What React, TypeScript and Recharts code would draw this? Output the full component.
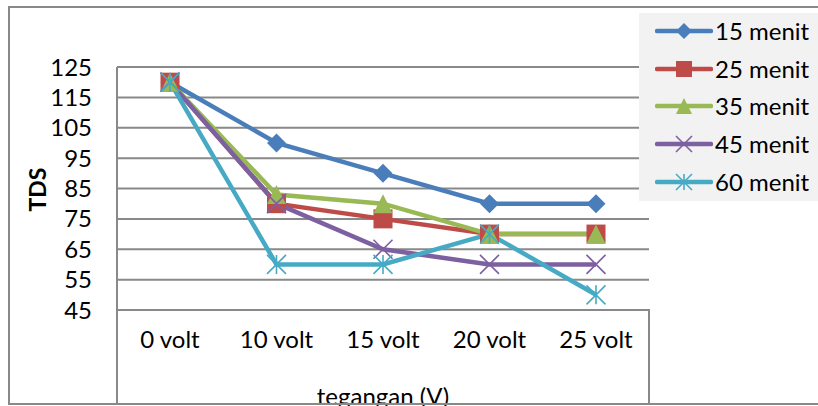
import { CartesianGrid, Line, LineChart, XAxis, YAxis } from "recharts";

const categories = ["0 volt", "10 volt", "15 volt", "20 volt", "25 volt"];
const menit15 = [120, 100, 90, 80, 80];
const menit25 = [120, 80, 75, 70, 70];
const menit35 = [120, 83, 80, 70, 70];
const menit45 = [120, 80, 65, 60, 60];
const menit60 = [120, 60, 60, 70, 50];
const yTicks = [45, 55, 65, 75, 85, 95, 105, 115, 125];

type MarkerKind = "diamond" | "square" | "triangle" | "x" | "star";

const SERIES: { key: string; name: string; color: string; marker: MarkerKind }[] = [
  { key: "m15", name: "15 menit", color: "#4A7EBB", marker: "diamond" },
  { key: "m25", name: "25 menit", color: "#BE4B48", marker: "square" },
  { key: "m35", name: "35 menit", color: "#98B954", marker: "triangle" },
  { key: "m45", name: "45 menit", color: "#7D60A0", marker: "x" },
  { key: "m60", name: "60 menit", color: "#46AAC5", marker: "star" },
];

const chartData = categories.map((name, i) => ({
  name,
  m15: menit15[i],
  m25: menit25[i],
  m35: menit35[i],
  m45: menit45[i],
  m60: menit60[i],
}));

const FONT = "Lato, 'Open Sans', sans-serif";
const GRID = "#898989";

function Marker({ kind, cx, cy, color, size }: { kind: MarkerKind; cx: number; cy: number; color: string; size: number }) {
  const h = size / 2;
  switch (kind) {
    case "diamond":
      return <polygon points={`${cx},${cy - h} ${cx + h},${cy} ${cx},${cy + h} ${cx - h},${cy}`} fill={color} />;
    case "square":
      return <rect x={cx - h} y={cy - h} width={size} height={size} fill={color} />;
    case "triangle":
      return <polygon points={`${cx},${cy - h} ${cx + h},${cy + h} ${cx - h},${cy + h}`} fill={color} />;
    case "x":
      return (
        <path
          d={`M${cx - h},${cy - h}L${cx + h},${cy + h}M${cx - h},${cy + h}L${cx + h},${cy - h}`}
          stroke={color}
          strokeWidth={1.6}
          fill="none"
        />
      );
    case "star":
      return (
        <path
          d={`M${cx - h},${cy - h}L${cx + h},${cy + h}M${cx - h},${cy + h}L${cx + h},${cy - h}M${cx},${cy - h}L${cx},${cy + h}`}
          stroke={color}
          strokeWidth={1.6}
          fill="none"
        />
      );
  }
  return null;
}

function LegendBox() {
  return (
    <div
      style={{
        position: "absolute",
        left: 639,
        top: 13,
        width: 179,
        height: 188,
        background: "#F2F2F2",
      }}
    >
      {SERIES.map((s, i) => (
        <div
          key={s.key}
          style={{ position: "absolute", left: 16, top: 18 + i * 37.7 - 16, height: 32, display: "flex", alignItems: "center" }}
        >
          <svg width={58} height={32}>
            <line x1={2} y1={16} x2={56} y2={16} stroke={s.color} strokeWidth={4.5} strokeLinecap="round" />
            <Marker kind={s.marker} cx={29} cy={16} color={s.color} size={16} />
          </svg>
          <span style={{ fontFamily: FONT, fontSize: 24, color: "#000", marginLeft: 2, lineHeight: "32px" }}>{s.name}</span>
        </div>
      ))}
    </div>
  );
}

export default function App() {
  return (
    <div
      style={{
        position: "fixed",
        left: 0,
        top: 0,
        width: 818,
        height: 406,
        background: "#fff",
        overflow: "hidden",
      }}
    >
      <LineChart
        width={818}
        height={406}
        data={chartData}
        margin={{ top: 67, right: 169, left: 0, bottom: 0 }}
        style={{ fontFamily: FONT }}
      >
        <CartesianGrid vertical={false} stroke={GRID} strokeWidth={2} />
        <XAxis
          dataKey="name"
          axisLine={false}
          tickLine={false}
          tickSize={0}
          tickMargin={21}
          height={96}
          interval={0}
          padding={{ left: 53, right: 53 }}
          tick={{ fill: "#000", fontSize: 24 }}
          label={(p: any) => {
            const vb = p.viewBox || {};
            return (
              <text x={vb.x + vb.width / 2} y={405} textAnchor="middle" fontSize={24} fill="#000">
                tegangan (V)
              </text>
            );
          }}
        />
        <YAxis
          domain={[45, 125]}
          ticks={yTicks}
          interval={0}
          width={117}
          axisLine={{ stroke: GRID, strokeWidth: 2 }}
          tickLine={false}
          tickSize={0}
          tickMargin={25}
          tick={{ fill: "#000", fontSize: 24 }}
          label={(p: any) => {
            const vb = p.viewBox || {};
            const cy = vb.y + vb.height / 2 + 1;
            return (
              <text
                x={37}
                y={cy}
                transform={`rotate(-90, 37, ${cy})`}
                textAnchor="middle"
                dominantBaseline="central"
                fontSize={23}
                fontWeight="bold"
                fill="#000"
              >
                TDS
              </text>
            );
          }}
        />
        {SERIES.map((s) => (
          <Line
            key={s.key}
            dataKey={s.key}
            name={s.name}
            type="linear"
            stroke={s.color}
            strokeWidth={4.5}
            isAnimationActive={false}
            activeDot={false}
            dot={(p: any) => <Marker key={`${s.key}-${p.index}`} kind={s.marker} cx={p.cx} cy={p.cy} color={s.color} size={19} />}
          />
        ))}
      </LineChart>
      <LegendBox />
      {/* outer chart frame */}
      <div
        style={{
          position: "absolute",
          left: 8,
          top: 6,
          width: 830,
          height: 395,
          border: `2px solid ${GRID}`,
          pointerEvents: "none",
        }}
      />
      {/* category box under the plot */}
      <div
        style={{
          position: "absolute",
          left: 116,
          top: 309,
          width: 530,
          height: 96,
          borderLeft: `2px solid ${GRID}`,
          borderRight: `2px solid ${GRID}`,
          pointerEvents: "none",
        }}
      />
    </div>
  );
}
